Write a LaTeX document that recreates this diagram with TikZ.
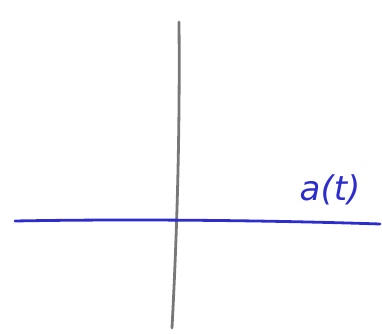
\documentclass[tikz,border=0pt]{standalone}
\usepackage{fontspec}
\setmainfont{DejaVu Sans}
\definecolor{axisgray}{RGB}{120,120,120}
\definecolor{penblue}{RGB}{45,45,205}
\begin{document}
\begin{tikzpicture}[x=1pt,y=1pt,
  axisline/.style={line width=2.8pt,line cap=round},
  lbl/.style={text=penblue,font=\fontsize{34}{40}\selectfont\itshape,inner sep=0pt}]
\useasboundingbox (0,0) rectangle (382,333);
\coordinate (vtop) at (179,311);
\coordinate (vbot) at (172,5);
\coordinate (hleft) at (15,112);
\coordinate (hright) at (380,109);
\draw[axisline,axisgray] (vtop) .. controls (180,200) and (177,100) .. (vbot);
\draw[axisline,penblue] (hleft) .. controls (120,114) and (260,113) .. (hright);
\node[lbl] (lab) at (330,143) {a(t)};
\end{tikzpicture}
\end{document}
